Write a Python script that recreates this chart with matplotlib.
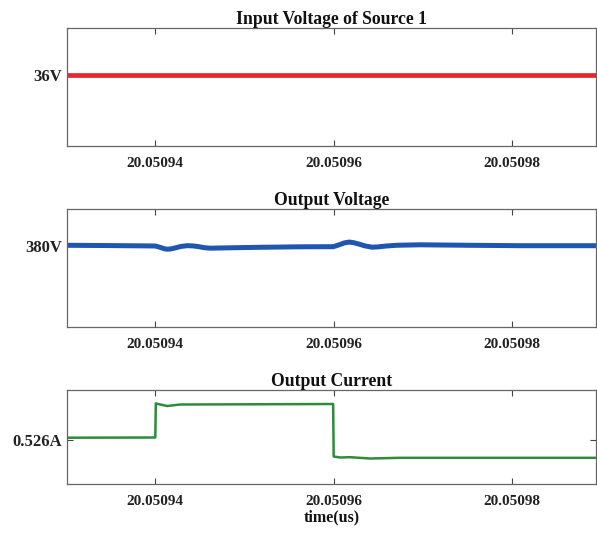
import matplotlib
matplotlib.use("Agg")
import matplotlib.pyplot as plt

plt.rcParams['font.family'] = ['Liberation Serif', 'DejaVu Serif']
plt.rcParams['font.weight'] = 'bold'

# ---- data ----
titles = ["Input Voltage of Source 1", "Output Voltage", "Output Current"]
xtick_vals = [20.05094, 20.05096, 20.05098]
xtick_labels = ["20.05094", "20.05096", "20.05098"]
xlim_vals = (20.0509301, 20.0509894)

t_in = [20.0509301, 20.0509894]
v_in = [36.0, 36.0]

t_out_v = [20.0509301, 20.0509338, 20.0509390, 20.05094, 20.05094056, 20.05094100,
           20.05094134, 20.05094170, 20.05094224, 20.05094290, 20.05094359, 20.05094420,
           20.05094482, 20.05094550, 20.05094616, 20.0509484, 20.05095176, 20.05095625,
           20.05095994, 20.05096030, 20.05096073, 20.05096120, 20.05096174, 20.05096220,
           20.05096275, 20.05096350, 20.05096431, 20.05096500, 20.05096577, 20.05096700,
           20.05096969, 20.05097529, 20.0509809, 20.0509894]
v_out = [380.14, 380.10, 380.02, 380.00, 379.72, 379.45,
         379.36, 379.40, 379.62, 379.92, 380.06, 380.02,
         379.88, 379.66, 379.56, 379.64, 379.74, 379.84,
         379.86, 380.05, 380.32, 380.62, 380.78, 380.68,
         380.42, 380.02, 379.76, 379.82, 379.98, 380.14,
         380.24, 380.14, 380.06, 380.06]

t_out_i = [20.0509301, 20.05094, 20.05094006, 20.05094056, 20.05094134, 20.0509428,
           20.05095064, 20.05095994, 20.05096, 20.05096073, 20.05096185, 20.05096409,
           20.05096745, 20.0509894]
i_out = [0.52623, 0.52625, 0.52965, 0.52955, 0.52940, 0.52955,
         0.52957, 0.52960, 0.52435, 0.52425, 0.52428, 0.52415,
         0.52422, 0.52422]

ytick_vals = [[36.0], [380.0], [0.526]]
ytick_labels = [["36V"], ["380V"], ["0.526A"]]
ylims = [(28.9, 40.7), (363.8, 387.4), (0.5216, 0.5310)]
colors = ["#e8262b", "#1f56b0", "#2e8b3a"]
widths = [3.4, 3.6, 1.8]

fig = plt.figure(figsize=(5.97, 5.33), dpi=100)
positions = [
    [0.1122, 0.7261, 0.886, 0.2214],
    [0.1122, 0.3865, 0.886, 0.2214],
    [0.1122, 0.0919, 0.886, 0.1764],
]
series = [(t_in, v_in), (t_out_v, v_out), (t_out_i, i_out)]

for k in range(3):
    ax = fig.add_axes(positions[k])
    tx, yy = series[k]
    ax.plot(tx, yy, color=colors[k], lw=widths[k], solid_capstyle='butt',
            solid_joinstyle='round')
    ax.set_xlim(*xlim_vals)
    ax.set_ylim(*ylims[k])
    ax.set_xticks(xtick_vals)
    ax.set_xticklabels(xtick_labels, fontsize=11, fontweight='bold')
    ax.set_yticks(ytick_vals[k])
    ax.set_yticklabels(ytick_labels[k], fontsize=12, fontweight='bold')
    ax.tick_params(direction='in', top=True, right=True, length=4, width=0.8,
                   colors='#444444', labelcolor='#222222')
    ax.tick_params(axis='x', pad=8)
    ax.tick_params(axis='y', pad=3.5)
    for s in ax.spines.values():
        s.set_color('#666666')
        s.set_linewidth(0.9)
    ax.set_title(titles[k], fontsize=12.7, fontweight='bold', color='#111111', pad=3)

ax.set_xlabel("time(us)", fontsize=11.5, fontweight='bold', color='#111111', labelpad=1)

fig.savefig("out.png", dpi=100)
